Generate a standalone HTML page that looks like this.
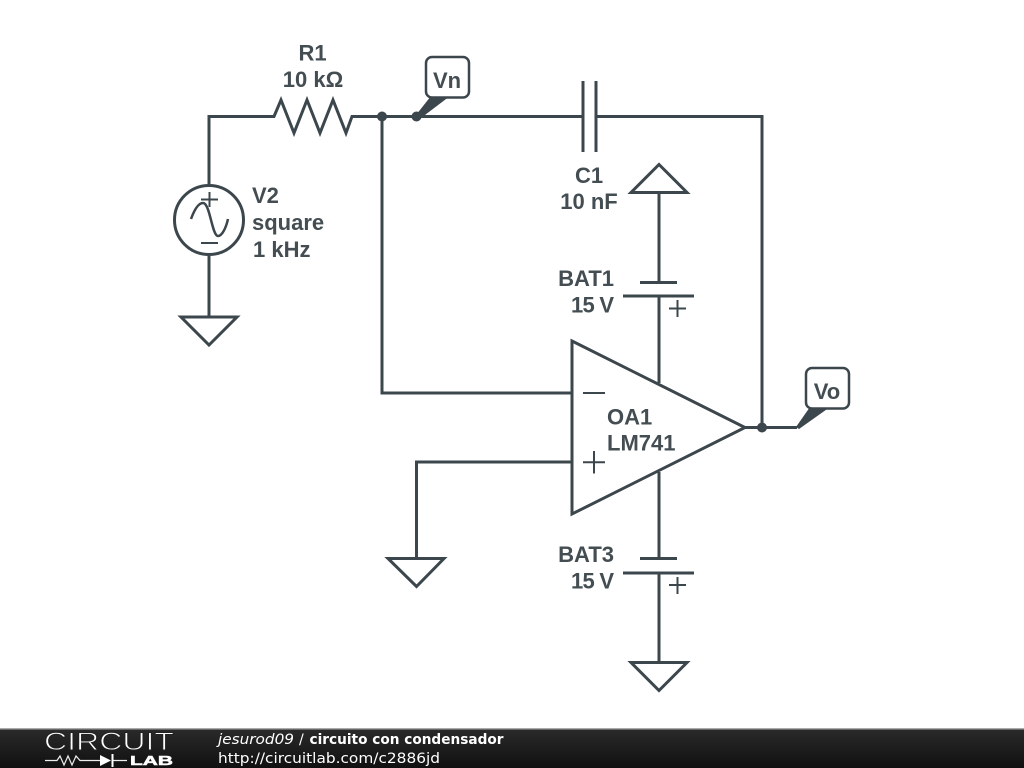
<!DOCTYPE html>
<html>
<head>
<meta charset="utf-8">
<style>
html,body{margin:0;padding:0;background:#fff;width:1024px;height:768px;overflow:hidden}
svg{display:block;position:absolute;left:0;top:0}
.l{font-family:"Liberation Sans",sans-serif;font-weight:bold;font-size:22px;fill:#434d52}
.f{font-family:"DejaVu Sans",sans-serif;font-size:14px;fill:#fff}
</style>
</head>
<body>
<svg width="1024" height="768" viewBox="0 0 1024 768" xmlns="http://www.w3.org/2000/svg">
<defs>
<linearGradient id="g" x1="0" y1="0" x2="0" y2="1">
<stop offset="0" stop-color="#2a2a2a"/>
<stop offset="1" stop-color="#101010"/>
</linearGradient>
</defs>
<g fill="none" stroke="#3c474d" stroke-width="3" stroke-linejoin="miter">
<!-- main wires -->
<path d="M209 186V116.500H274L281 100L294 133L307 100L320 133L333 100L346 133L352 116.500H582"/>
<path d="M597 116.500H762V427.500"/>
<path d="M382 116.500V393H572"/>
<path d="M209 255V317"/>
<!-- source -->
<circle cx="209" cy="220" r="34.500"/>
<path d="M201 199.500H218M209.500 192V207M201 243H218" stroke-width="2"/>
<path d="M191 219C195 208 199 203 203 203C210 203 212 236 218 236C222 236 226 228 228 219" stroke-width="2.500"/>
<!-- ground left -->
<path d="M181 317H237L209 345Z"/>
<!-- capacitor -->
<path d="M583 81V152M596 81V152"/>
<!-- top rail -->
<path d="M631 192.500H687L659 164.500Z"/>
<path d="M659 192.500V282.500"/>
<path d="M640 282.500H677M623 296H694"/>
<path d="M659 296V383"/>
<path d="M669 308.500H686M677.500 300V317" stroke-width="2"/>
<!-- opamp -->
<path d="M572 341L745 427.500L572 514Z"/>
<path d="M745 427.500H797"/>
<path d="M583 393H605M583 462.300H605M594 451V473.500" stroke-width="2"/>
<!-- + input -->
<path d="M572 462H416.500V558"/>
<path d="M388 558.500H444L416.500 586.500Z"/>
<!-- bottom rail -->
<path d="M659 472V558.500"/>
<path d="M640 558.500H677M623 573H694"/>
<path d="M659 573V662"/>
<path d="M669 585H686M677.500 577V594" stroke-width="2"/>
<path d="M631 662.500H687L659 690.500Z"/>
</g>
<g fill="#3c474d" stroke="none">
<circle cx="382" cy="116.500" r="5"/>
<circle cx="416.500" cy="116.500" r="5"/>
<circle cx="762" cy="427.500" r="5"/>
<path d="M416 115L431 96H450L421 118Z"/>
<path d="M796 427L810 407H830L799 429Z"/>
</g>
<g fill="#fff" stroke="#3c474d" stroke-width="2.500">
<rect x="426" y="57" width="43" height="40.500" rx="6"/>
<rect x="806" y="368" width="43" height="40.500" rx="6"/>
</g>
<g>
<text class="l" x="312.500" y="60.500" text-anchor="middle">R1</text>
<text class="l" x="313" y="87" text-anchor="middle">10 kΩ</text>
<text class="l" x="447" y="88" text-anchor="middle">Vn</text>
<text class="l" x="827" y="399" text-anchor="middle">Vo</text>
<text class="l" x="252" y="203">V2</text>
<text class="l" x="252" y="230">square</text>
<text class="l" x="253" y="257">1 kHz</text>
<text class="l" x="589" y="183" text-anchor="middle">C1</text>
<text class="l" x="589" y="209" text-anchor="middle">10 nF</text>
<text class="l" x="614" y="286" text-anchor="end">BAT1</text>
<text class="l" x="571" y="312.500" textLength="43">15 V</text>
<text class="l" x="614" y="562" text-anchor="end">BAT3</text>
<text class="l" x="571" y="588.500" textLength="43">15 V</text>
<text class="l" x="607" y="424.500">OA1</text>
<text class="l" x="607" y="450.500">LM741</text>
</g>
<!-- footer -->
<rect x="0" y="729" width="1024" height="39" fill="url(#g)"/>
<rect x="0" y="728" width="1024" height="1.500" fill="#aaa"/>
<text x="44" y="750" font-family="'Liberation Sans',sans-serif" font-size="25" fill="#fff" stroke="#222" stroke-width="0.9" textLength="130" lengthAdjust="spacingAndGlyphs">CIRCUIT</text>
<path d="M45 760.500H57L60 756L64 765L68 756L72 765L76 756L80 760.500H100M112 760.500H127" stroke="#eee" stroke-width="1.200" fill="none"/>
<path d="M100 755V766L111 760.500Z" fill="#fff"/>
<path d="M112.500 754V767" stroke="#fff" stroke-width="2"/>
<text x="130" y="765" font-family="'Liberation Sans',sans-serif" font-size="13" font-weight="bold" fill="#fff" stroke="#fff" stroke-width="0.5" textLength="43" lengthAdjust="spacingAndGlyphs">LAB</text>
<text class="f" x="218" y="744" font-style="italic" textLength="76" lengthAdjust="spacingAndGlyphs">jesurod09</text>
<text class="f" x="299" y="744">/</text>
<text class="f" x="309.500" y="744" font-weight="bold" textLength="194" lengthAdjust="spacingAndGlyphs">circuito con condensador</text>
<text class="f" x="218" y="763" textLength="222" lengthAdjust="spacingAndGlyphs">http://circuitlab.com/c2886jd</text>
</svg>
</body>
</html>
